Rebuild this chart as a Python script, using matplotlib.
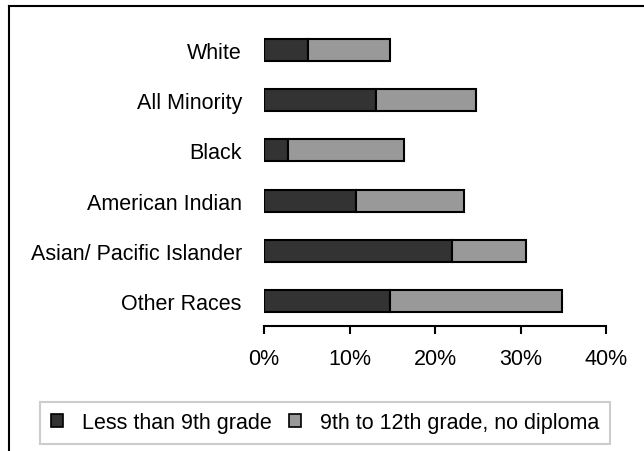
import matplotlib
matplotlib.use("Agg")
import matplotlib.pyplot as plt
from matplotlib.patches import Patch
from matplotlib.lines import Line2D
from matplotlib.ticker import FuncFormatter

categories = ["White", "All Minority", "Black", "American Indian",
              "Asian/ Pacific Islander", "Other Races"]
less_than_9th = [5.1, 13.1, 2.8, 10.8, 22.0, 14.7]
grade_9_to_12 = [9.6, 11.7, 13.6, 12.6, 8.6, 20.2]
series_names = ["Less than 9th grade", "9th to 12th grade, no diploma"]
xticks = [0, 10, 20, 30, 40]

dark = "#333333"
light = "#999999"

plt.rcParams["font.family"] = ["Liberation Sans", "DejaVu Sans"]
W, H = 644, 452
fig = plt.figure(figsize=(W / 100, H / 100), dpi=100)
fig.patch.set_facecolor("white")

ax = fig.add_axes([264 / W, 1 - 327 / H, (606 - 264) / W, (327 - 26) / H])
y = list(range(len(categories)))
lw = 1.5
ax.barh(y, less_than_9th, height=0.44, color=dark, edgecolor="black", linewidth=lw)
ax.barh(y, grade_9_to_12, left=less_than_9th, height=0.44, color=light,
        edgecolor="black", linewidth=lw)
ax.set_ylim(len(categories) - 0.5, -0.5)
ax.set_xlim(0, 40)
ax.set_yticks(y)
ax.set_yticklabels(categories, fontsize=15.5)
ax.set_xticks(xticks)
ax.xaxis.set_major_formatter(FuncFormatter(lambda v, p: f"{v:.0f}%"))
ax.tick_params(axis="x", labelsize=15.5, length=6, width=1.5, pad=10, direction="out")
ax.tick_params(axis="y", length=0, pad=16)
for s in ["top", "right", "left"]:
    ax.spines[s].set_visible(False)
ax.spines["bottom"].set_linewidth(1.5)

# outer frame (left and top edges visible)
fig.add_artist(Line2D([9 / W, 9 / W], [1 - 7 / H, 0], color="black", lw=1.5,
                      transform=fig.transFigure))
fig.add_artist(Line2D([9 / W, 1], [1 - 7 / H, 1 - 7 / H], color="black", lw=1.5,
                      transform=fig.transFigure))

handles = [Patch(facecolor=dark, edgecolor="black", linewidth=1.2),
           Patch(facecolor=light, edgecolor="black", linewidth=1.2)]
leg = fig.legend(handles, series_names, loc="center",
                 bbox_to_anchor=(325 / W, 1 - 424 / H),
                 ncol=2, fontsize=15.5, frameon=True, fancybox=False,
                 handlelength=0.55, handleheight=0.55, handletextpad=0.9,
                 columnspacing=0.8, borderpad=0.5)
leg.get_frame().set_edgecolor("#c0c0c0")
leg.get_frame().set_linewidth(1.5)

fig.savefig("out.png", dpi=100, facecolor="white")
